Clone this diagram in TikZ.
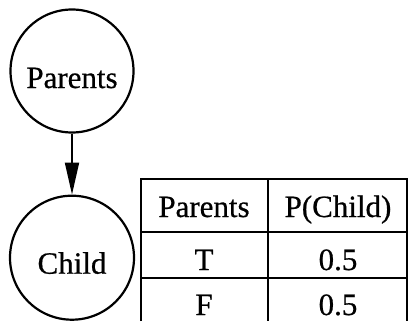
\documentclass[tikz,border=0pt]{standalone}
\usepackage{fontspec}
\setmainfont{Liberation Serif}
\newfontfamily\scanfont{Liberation Serif}[FakeBold=0.6]
\usepackage{tikz}
\usetikzlibrary{positioning, arrows.meta}

\begin{document}
\begin{tikzpicture}[x=1pt, y=-1pt, >={Triangle[length=32pt, width=14pt]}, every node/.style={font=\scanfont\fontsize{31}{36}\selectfont}]
    \useasboundingbox (0,0) rectangle (409,321);

    % Network: parent variable above child variable
    \node [draw, circle, line width=2.2pt, minimum size=123pt, inner sep=0pt, text height=34pt, text depth=0pt] (parents) at (72,71) {Parents};
    \node [draw, circle, line width=2.2pt, minimum size=124pt, inner sep=0pt, text height=32pt, text depth=0pt, below=61pt of parents] (child) {Child};

    \draw [->, line width=1.8pt] (parents) -- (child);

    % Conditional probability table (cut off at the bottom)
    \draw [line width=2.2pt] (141,321) -- (141,179) -- (407,179) -- (407,321);
    \draw [line width=2.2pt] (268,179) -- (268,321);
    \draw [line width=2.2pt] (141,232) -- (407,232);
    \draw [line width=2.2pt] (141,278) -- (407,278);

    \node [anchor=base] (hdrpar) at (204,217) {Parents};
    \node [anchor=base] (hdrprob) at (338,217) {P(Child)};
    \node [anchor=base] (rowt) at (204,270) {T};
    \node [anchor=base] (rowtp) at (338,270) {0.5};
    \node [anchor=base] (rowf) at (204,315) {F};
    \node [anchor=base] (rowfp) at (338,315) {0.5};
\end{tikzpicture}
\end{document}
